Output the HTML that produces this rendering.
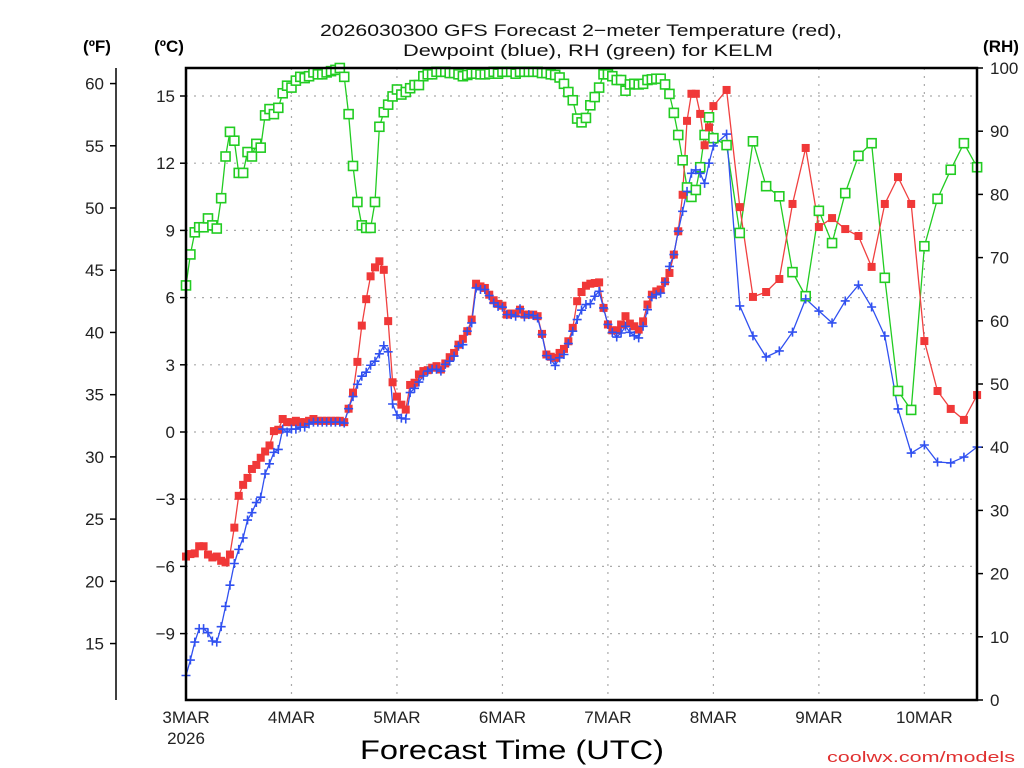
<!DOCTYPE html>
<html><head><meta charset="utf-8"><style>
html,body{margin:0;padding:0;background:#fff;}
svg{display:block;font-family:"Liberation Sans",sans-serif;}
</style></head><body>
<svg id="chart" width="1024" height="768" viewBox="0 0 1024 768" xmlns="http://www.w3.org/2000/svg">
<rect x="0" y="0" width="1024" height="768" fill="#fff"/>
<g font-size="17" fill="#111" text-anchor="middle">
<text x="581" y="36" textLength="522" lengthAdjust="spacingAndGlyphs">2026030300 GFS Forecast 2−meter Temperature (red),</text>
<text x="588" y="56" textLength="370" lengthAdjust="spacingAndGlyphs">Dewpoint (blue), RH (green) for KELM</text>
</g>
<text x="97" y="52" font-size="17" font-weight="bold" text-anchor="middle">(ºF)</text>
<text x="169" y="52" font-size="17" font-weight="bold" text-anchor="middle">(ºC)</text>
<text x="1001" y="52" font-size="17" font-weight="bold" text-anchor="middle">(RH)</text>
<g id="grid"></g>
<g id="axes"></g>
<g id="series"></g>
<rect x="186" y="68" width="791" height="632" fill="none" stroke="#000" stroke-width="2.5"/>
<text x="512" y="759" font-size="27" text-anchor="middle" textLength="304" lengthAdjust="spacingAndGlyphs" fill="#000">Forecast Time (UTC)</text>
<text x="1015" y="762" font-size="15" text-anchor="end" fill="#e03030" textLength="188" lengthAdjust="spacingAndGlyphs">coolwx.com/models</text>
</svg>
<script>
const tempHourly = [-5.56,-5.45,-5.42,-5.1,-5.1,-5.47,-5.6,-5.56,-5.75,-5.82,
-5.47,-4.27,-2.85,-2.36,-2.05,-1.65,-1.47,-1.15,-0.87,-0.6,
0.04,0.1,0.58,0.44,0.44,0.5,0.44,0.44,0.5,0.58,
0.5,0.5,0.5,0.5,0.5,0.5,0.44,1.04,1.76,3.13,
4.75,5.93,6.95,7.35,7.62,7.24,4.95,2.22,1.58,1.22,
1.0,2.1,2.2,2.57,2.72,2.76,2.87,2.94,2.79,3.06,
3.34,3.53,3.9,4.16,4.5,5.02,6.62,6.5,6.43,6.13,
5.88,5.72,5.64,5.24,5.29,5.29,5.46,5.24,5.24,5.24,
5.17,4.38,3.46,3.36,3.31,3.53,3.71,4.05,4.65,5.84,
6.25,6.53,6.62,6.65,6.68,5.54,4.8,4.54,4.54,4.8,
5.17,4.84,4.72,4.57,4.94,5.69,6.13,6.28,6.36,6.73,
7.1,7.92,8.96,10.59,13.89,15.1,15.1,14.2,12.8,13.6,14.55];
const temp3h = [15.27,10.04,6.03,6.25,6.83,10.18,12.68,9.15,9.55,9.06,8.75,7.37,10.18,11.38,10.18,4.06,1.83,1.03,0.54,1.65];
const dewHourly = [-10.87,-10.18,-9.38,-8.78,-8.78,-8.96,-9.33,-9.38,-8.69,-7.78,
-6.84,-5.87,-5.24,-4.73,-3.93,-3.6,-3.15,-2.91,-1.87,-1.42,
-0.91,-0.78,0.13,0,0.13,0.13,0.22,0.22,0.36,0.44,
0.44,0.44,0.44,0.44,0.44,0.44,0.4,1.04,1.58,2.13,
2.49,2.67,2.98,3.16,3.49,3.85,3.58,1.25,0.76,0.62,
0.58,1.76,1.95,2.23,2.5,2.72,2.8,2.8,2.72,3.02,
3.16,3.39,3.83,3.9,4.5,4.87,6.43,6.36,6.36,6.09,
5.76,5.61,5.57,5.24,5.24,5.17,5.5,5.14,5.24,5.2,
5.09,4.35,3.41,3.24,2.97,3.31,3.46,3.95,4.5,5.02,
5.44,5.69,5.73,6.06,6.28,5.54,4.8,4.45,4.24,4.42,
4.72,4.45,4.3,4.2,4.72,5.46,6.03,6.13,6.2,6.68,
7.39,7.92,8.96,9.85,10.74,11.55,11.7,11.55,11.1,12.0,12.77];
const dew3h = [13.30,5.63,4.29,3.35,3.62,4.46,5.94,5.40,4.87,5.85,6.56,5.58,4.29,1.03,-0.94,-0.58,-1.34,-1.38,-1.12,-0.67];
const rhHourly = [65.6,70.5,74.0,74.8,74.8,76.2,75.1,74.6,79.4,86.0,
89.9,88.5,83.4,83.4,86.7,86.0,88.0,87.4,92.5,93.5,
92.7,93.7,96.0,97.2,96.9,98.0,98.6,98.4,98.7,99.3,
99.0,99.0,99.3,99.5,99.7,100,98.6,92.7,84.5,78.8,
75.1,74.7,74.7,78.8,90.7,93.0,94.2,95.5,96.6,95.8,
96.2,96.8,97.3,97.3,98.7,99.0,99.0,99.4,99.4,99.4,
99.2,99.2,99.0,98.7,98.9,99.1,99.1,99.0,99.0,99.1,
99.4,99.1,99.4,99.4,99.4,99.1,99.4,99.4,99.4,99.4,
99.4,99.2,99.2,99.0,98.9,98.5,97.5,96.2,94.9,92.0,
91.4,92.1,94.1,95.4,96.9,99.0,99.0,98.7,98.1,98.1,
96.4,97.4,97.5,97.4,97.5,98.1,98.2,98.3,98.3,97.4,
95.9,92.9,89.4,85.4,81.1,79.6,80.7,84.3,89.4,92.2,88.9];
const rh3h = [87.8,73.9,88.4,81.3,79.7,67.7,63.9,77.4,72.3,80.2,86.1,88.1,66.8,48.9,45.9,71.8,79.3,83.9,88.1,84.3];
const dayLabels = ["3MAR","4MAR","5MAR","6MAR","7MAR","8MAR","9MAR","10MAR"];
const celsiusTicks = [15,12,9,6,3,0,-3,-6,-9];
const fahrenheitTicks = [60,55,50,45,40,35,30,25,20,15];
const rhTicks = [100,90,80,70,60,50,40,30,20,10,0];

const NS = "http://www.w3.org/2000/svg";
const X0 = 186, PXH = 4.395, TOP = 68, BOT = 700, RIGHT = 977;
function xH(h){ return X0 + h*PXH; }
function yC(c){ return 432 - c*22.4; }
function yF(f){ return 432 - (f-32)*12.444; }
function yRH(r){ return BOT - r*6.32; }
function mk(tag, attrs, parent){ const e=document.createElementNS(NS,tag); for(const k in attrs) e.setAttribute(k,attrs[k]); parent.appendChild(e); return e; }

const hoursH = []; for(let i=0;i<tempHourly.length;i++) hoursH.push(i);
const hours3 = []; for(let i=0;i<temp3h.length;i++) hours3.push(123+3*i);
const hours = hoursH.concat(hours3);
const temp = tempHourly.concat(temp3h), dew = dewHourly.concat(dew3h), rh = rhHourly.concat(rh3h);

const grid = document.getElementById('grid');
const axes = document.getElementById('axes');
const series = document.getElementById('series');

celsiusTicks.forEach(c=>{
  const y=yC(c);
  const g=mk('line',{x1:X0,x2:RIGHT,y1:y,y2:y,stroke:'#aaa','stroke-width':1.2,'stroke-dasharray':'2,6'},grid);
  
  
  const t=mk('line',{x1:X0-6,x2:X0,y1:y,y2:y,stroke:'#000','stroke-width':1.5},axes);
  
  
  const l=mk('text',{x:175,y:y+6,'font-size':17,'text-anchor':'end',fill:'#222'},axes);
  l.textContent = c<0 ? '−'+Math.abs(c) : String(c);
  
  
});
dayLabels.forEach((d,i)=>{
  const x=xH(24*i);
  if(i>0){
    const g=mk('line',{x1:x,x2:x,y1:TOP,y2:BOT,stroke:'#aaa','stroke-width':1.2,'stroke-dasharray':'2,6'},grid);
    
    
  }
  const l=mk('text',{x:x,y:723,'font-size':17,'text-anchor':'middle',fill:'#222'},axes);
  l.textContent=d;
  
  
});
const yr=mk('text',{x:X0,y:744,'font-size':17,'text-anchor':'middle',fill:'#222'},axes);
yr.textContent='2026';



const fAxis=mk('line',{x1:116,x2:116,y1:TOP,y2:BOT,stroke:'#000','stroke-width':1.5},axes);


fahrenheitTicks.forEach(f=>{
  const y=yF(f);
  const t=mk('line',{x1:110,x2:116,y1:y,y2:y,stroke:'#000','stroke-width':1.5},axes);
  
  
  const l=mk('text',{x:104,y:y+6,'font-size':17,'text-anchor':'end',fill:'#222'},axes);
  l.textContent=String(f);
  
  
});
rhTicks.forEach(r=>{
  const y=yRH(r);
  const t=mk('line',{x1:RIGHT,x2:RIGHT+6,y1:y,y2:y,stroke:'#000','stroke-width':1.5},axes);
  
  
  const l=mk('text',{x:990,y:y+6,'font-size':17,'text-anchor':'start',fill:'#222'},axes);
  l.textContent=String(r);
  
  
});

function drawLine(vals, yf, color, name){
  const pts = hours.map((h,i)=>xH(h).toFixed(1)+','+yf(vals[i]).toFixed(1)).join(' ');
  const p=mk('polyline',{points:pts,fill:'none',stroke:color,'stroke-width':1.3},series);
  
  
}
drawLine(rh, yRH, '#22cc22', 'rh-line');
drawLine(temp, yC, '#f04040', 'temperature-line');
drawLine(dew, yC, '#3050f0', 'dewpoint-line');

hours.forEach((h,i)=>{
  const x=xH(h), y=yRH(rh[i]);
  const m=mk('rect',{x:x-4.5,y:y-4.5,width:9,height:9,fill:'#fff',stroke:'#22cc22','stroke-width':1.6},series);
  
  
});
hours.forEach((h,i)=>{
  const x=xH(h), y=yC(temp[i]);
  const m=mk('rect',{x:x-4,y:y-4,width:8,height:8,fill:'#f03838'},series);
  
  
});
hours.forEach((h,i)=>{
  const x=xH(h), y=yC(dew[i]);
  const m=mk('path',{d:`M${x-4.5},${y}H${x+4.5}M${x},${y-4.5}V${y+4.5}`,stroke:'#3050f0','stroke-width':1.6,fill:'none'},series);
  
  
});
</script>
</body></html>
